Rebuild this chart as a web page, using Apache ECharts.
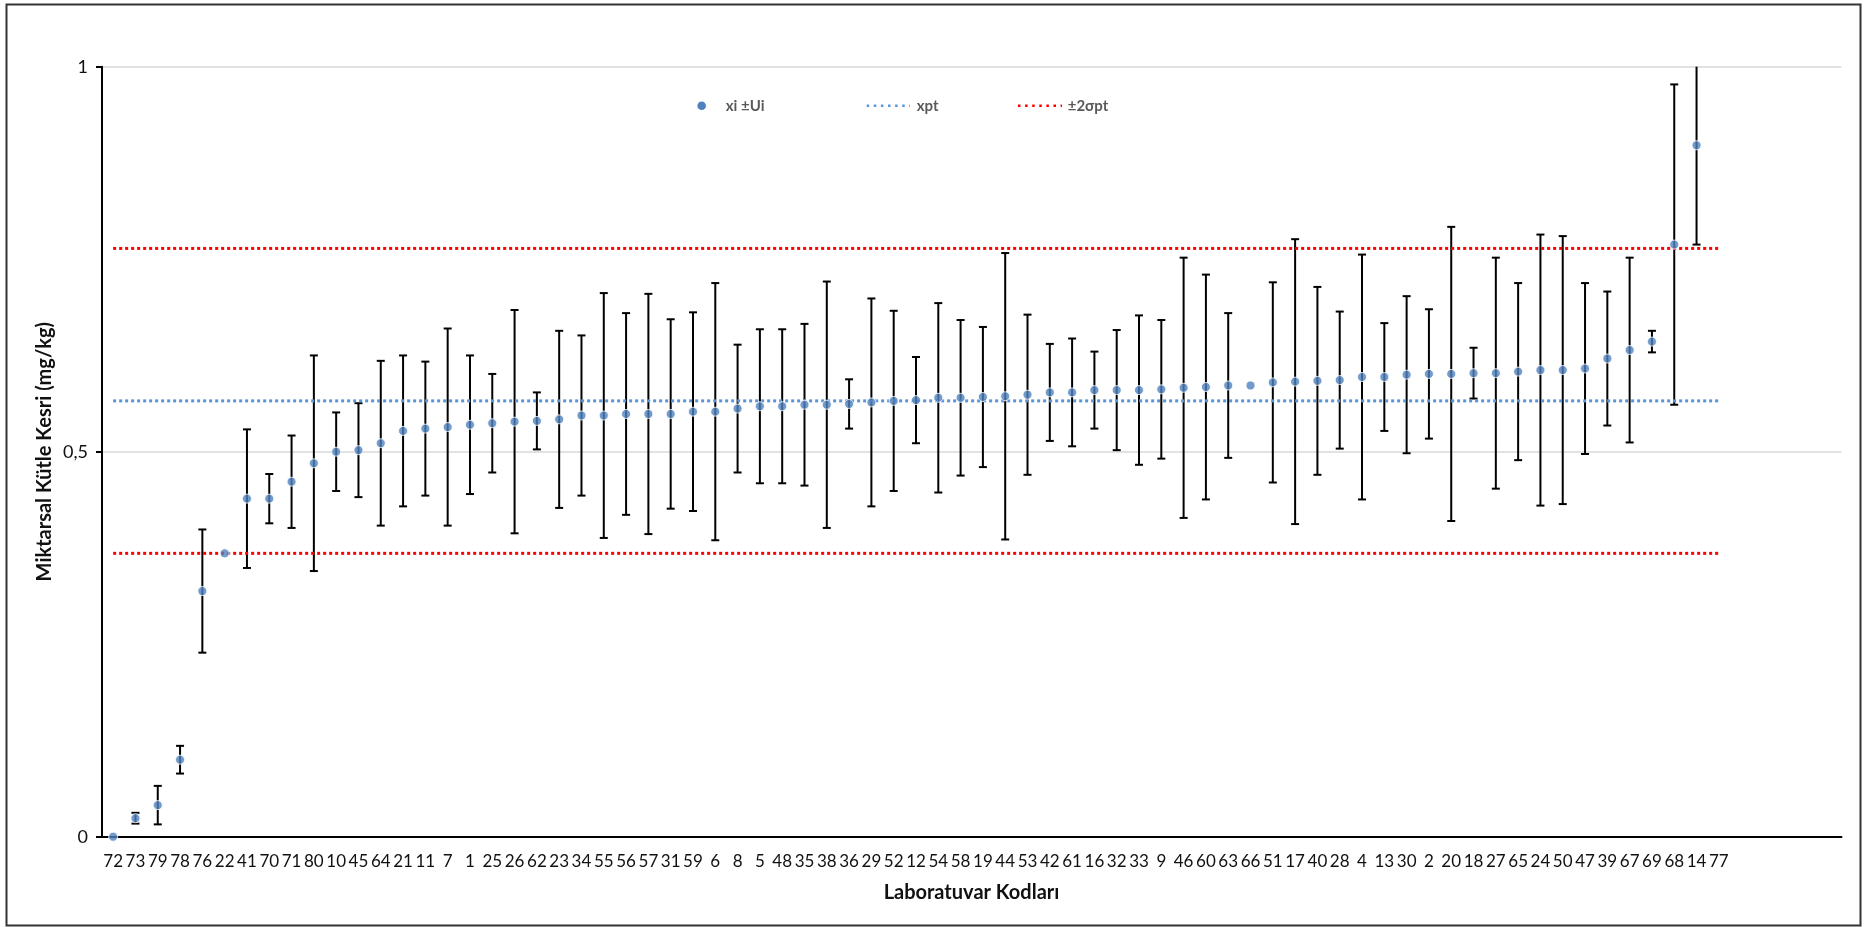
<!DOCTYPE html>
<html>
<head>
<meta charset="utf-8">
<script src="https://cdn.jsdelivr.net/npm/echarts@6/dist/echarts.min.js"></script>
<style>
  html, body { margin: 0; padding: 0; background: #fff; }
  #chart { width: 1865px; height: 927px; }
</style>
</head>
<body>
<div id="chart"></div>
<script>
// Laboratory codes, ordered by reported value
const labCodes = ['72','73','79','78','76','22','41','70','71','80','10','45','64','21','11','7','1','25','26','62',
  '23','34','55','56','57','31','59','6','8','5','48','35','38','36','29','52','12','54','58','19',
  '44','53','42','61','16','32','33','9','46','60','63','66','51','17','40','28','4','13','30','2',
  '20','18','27','65','24','50','47','39','67','69','68','14','77'];

// Reported mass fraction xi (mg/kg); lab 77 reported no value
const xi = [0, 0.024, 0.041, 0.100, 0.319, 0.368, 0.439, 0.439, 0.461, 0.485, 0.500, 0.502, 0.511, 0.527, 0.530, 0.532, 0.535, 0.537, 0.539, 0.540,
  0.542, 0.547, 0.547, 0.549, 0.549, 0.549, 0.552, 0.552, 0.556, 0.559, 0.559, 0.561, 0.561, 0.562, 0.564, 0.566, 0.567, 0.570, 0.570, 0.571,
  0.572, 0.574, 0.577, 0.577, 0.580, 0.580, 0.580, 0.581, 0.583, 0.584, 0.586, 0.586, 0.590, 0.591, 0.592, 0.593, 0.597, 0.597, 0.600, 0.601,
  0.601, 0.602, 0.602, 0.604, 0.606, 0.606, 0.608, 0.621, 0.632, 0.643, 0.769, 0.898, null];

// Expanded uncertainty Ui (mg/kg); 0 = not reported
const Ui = [0, 0.007, 0.025, 0.018, 0.080, 0, 0.090, 0.032, 0.060, 0.140, 0.051, 0.061, 0.107, 0.098, 0.087, 0.128, 0.090, 0.064, 0.145, 0.037,
  0.115, 0.104, 0.159, 0.131, 0.156, 0.123, 0.129, 0.167, 0.083, 0.100, 0.100, 0.105, 0.160, 0.032, 0.135, 0.117, 0.056, 0.123, 0.101, 0.091,
  0.186, 0.104, 0.063, 0.070, 0.050, 0.078, 0.097, 0.090, 0.169, 0.146, 0.094, 0, 0.130, 0.185, 0.122, 0.089, 0.159, 0.070, 0.102, 0.084,
  0.191, 0.033, 0.150, 0.115, 0.176, 0.174, 0.111, 0.087, 0.120, 0.014, 0.208, 0.129, null];

// Assigned value and 2 x standard deviation for proficiency assessment
const xpt = 0.566;
const twoSigmaPt = 0.198;

// Y axis ticks
const yTicks = [0, 0.5, 1];

// Five spare category slots keep the plot width after the last code
const axisCategories = labCodes.concat(['', '', '', '', '']);

const pointData = xi.map(v => (v === null ? '-' : v));
const errorData = [];
xi.forEach((v, i) => {
  if (v !== null && Ui[i] > 0) errorData.push([i, v - Ui[i], v + Ui[i]]);
});
const lastIdx = labCodes.length - 1;
const refLine = v => [[0, v], [lastIdx, v]];

const FONT = 'Lato, "Open Sans", sans-serif';
const BLUE = '#4F81BD';
const LINE_BLUE = '#5B95D9';
const RED = '#FF0000';

const chart = echarts.init(document.getElementById('chart'), null, { renderer: 'canvas' });

chart.setOption({
  backgroundColor: '#ffffff',
  animation: false,
  textStyle: { fontFamily: FONT },
  grid: { left: 102, right: 23.5, top: 66.7, bottom: 90.3, containLabel: false, outerBoundsMode: 'none' },
  xAxis: {
    type: 'category',
    data: axisCategories,
    boundaryGap: true,
    axisLine: { show: true, lineStyle: { color: '#000', width: 2 } },
    axisTick: { show: false },
    axisLabel: { interval: 0, color: '#111', fontSize: 17, fontFamily: FONT, margin: 16 },
    splitLine: { show: false }
  },
  yAxis: {
    type: 'value',
    min: yTicks[0],
    max: yTicks[yTicks.length - 1],
    interval: yTicks[1] - yTicks[0],
    axisLine: { show: true, lineStyle: { color: '#000', width: 2 } },
    axisTick: { show: true, inside: false, length: 6, lineStyle: { color: '#000', width: 2 } },
    axisLabel: {
      color: '#111', fontSize: 18, fontFamily: FONT, margin: 14,
      formatter: v => String(v).replace('.', ',')
    },
    splitLine: { show: true, lineStyle: { color: '#D9D9D9', width: 1.5 } }
  },
  series: [
    {
      name: 'xi ±Ui bars',
      type: 'custom',
      data: errorData,
      z: 2,
      renderItem: function (params, api) {
        const i = api.value(0);
        const lo = api.coord([i, api.value(1)]);
        const hi = api.coord([i, api.value(2)]);
        const cs = params.coordSys;
        let yTop = hi[1];
        let topCap = true;
        if (yTop < cs.y) { yTop = cs.y; topCap = false; }
        const x = lo[0];
        const st = { stroke: '#000', lineWidth: 2 };
        const kids = [
          { type: 'line', shape: { x1: x, y1: lo[1], x2: x, y2: yTop }, style: st },
          { type: 'line', shape: { x1: x - 4, y1: lo[1], x2: x + 4, y2: lo[1] }, style: st }
        ];
        if (topCap) kids.push({ type: 'line', shape: { x1: x - 4, y1: yTop, x2: x + 4, y2: yTop }, style: st });
        return { type: 'group', children: kids };
      }
    },
    {
      name: 'xpt',
      type: 'line',
      data: refLine(xpt),
      symbol: 'none',
      z: 3,
      lineStyle: { color: LINE_BLUE, width: 3, type: [3, 3] }
    },
    {
      name: '±2σpt',
      type: 'line',
      data: refLine(xpt + twoSigmaPt),
      symbol: 'none',
      z: 3,
      lineStyle: { color: RED, width: 3, type: [3, 3] }
    },
    {
      name: '±2σpt',
      type: 'line',
      data: refLine(xpt - twoSigmaPt),
      symbol: 'none',
      z: 3,
      lineStyle: { color: RED, width: 3, type: [3, 3] }
    },
    {
      name: 'xi ±Ui',
      type: 'scatter',
      data: pointData,
      symbol: 'circle',
      symbolSize: 9,
      clip: false,
      z: 4,
      itemStyle: { color: BLUE, borderColor: '#fff', borderWidth: 1 }
    }
  ],
  graphic: [
    // outer chart frame
    { type: 'rect', shape: { x: 6.5, y: 4.5, width: 1854, height: 921 }, style: { fill: 'none', stroke: '#333', lineWidth: 2 }, z: 0 },
    // legend
    { type: 'circle', shape: { cx: 701.7, cy: 105.7, r: 4.3 }, style: { fill: BLUE }, z: 10 },
    { type: 'text', x: 725.7, y: 105.7, style: { text: 'xi ±Ui', fill: '#595959', font: 'bold 15px ' + FONT, verticalAlign: 'middle', align: 'left' }, z: 10 },
    { type: 'line', shape: { x1: 866.7, y1: 105.7, x2: 910, y2: 105.7 }, style: { stroke: LINE_BLUE, lineWidth: 2.5, lineDash: [2.5, 4.6] }, z: 10 },
    { type: 'text', x: 916.7, y: 105.7, style: { text: 'xpt', fill: '#595959', font: 'bold 15px ' + FONT, verticalAlign: 'middle', align: 'left' }, z: 10 },
    { type: 'line', shape: { x1: 1018, y1: 105.7, x2: 1062, y2: 105.7 }, style: { stroke: RED, lineWidth: 2.5, lineDash: [2.5, 4.6] }, z: 10 },
    { type: 'text', x: 1067.7, y: 105.7, style: { text: '±2σpt', fill: '#595959', font: 'bold 15px ' + FONT, verticalAlign: 'middle', align: 'left' }, z: 10 },
    // axis titles
    { type: 'text', x: 971.5, y: 893, style: { text: 'Laboratuvar Kodları', fill: '#111', font: 'bold 20px ' + FONT, align: 'center', verticalAlign: 'middle' }, z: 10 },
    { type: 'text', x: 44.5, y: 451.7, rotation: Math.PI / 2, style: { text: 'Miktarsal Kütle Kesri (mg/kg)', fill: '#111', font: 'bold 20px ' + FONT, align: 'center', verticalAlign: 'middle' }, z: 10 }
  ]
});
</script>
</body>
</html>
